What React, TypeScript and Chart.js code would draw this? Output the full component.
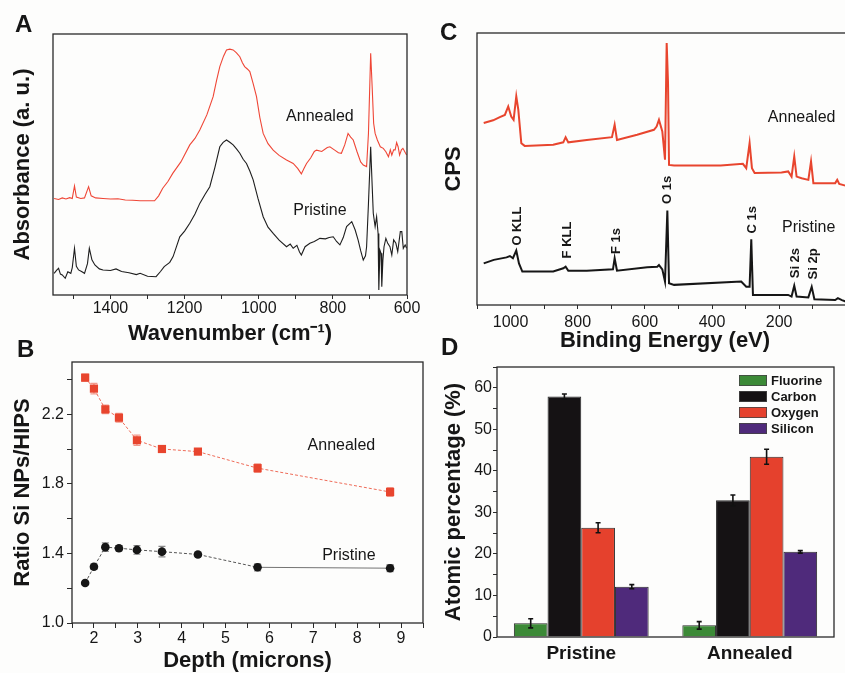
import React, { useEffect, useRef } from "react";
import { Chart, registerables } from "chart.js";
Chart.register(...registerables);

const FONT = "'Liberation Sans', Arial, Helvetica, sans-serif";
const AXIS = "#2a2a2a";
const TXT = "#161616";
const RED = "#e8452e";
const BLACK = "#161616";

// ---------------- Panel A : FTIR ----------------
const ftirAnnealedWn = [1552,1540,1530,1520,1510,1503,1497,1492,1480,1470,1459,1452,1440,1420,1400,1380,1360,1340,1320,1300,1281,1270,1259,1245,1232,1210,1186,1172,1159,1140,1123,1114,1105,1095,1087,1078,1069,1060,1051,1044,1038,1030,1024,1015,1006,997,988,975,961,945,925,907,895,885,878,871,860,850,844,830,815,808,795,785,777,768,759,752,745,735,725,718,709,704,698,694,690,686,680,672,664,657,650,645,641,636,632,628,624,620,615,611,606,601];
const ftirAnnealedAbs = [37.0,36.6,37.2,36.8,37.3,37.0,41.8,37.5,37.0,37.2,41.5,38.0,37.2,37.0,36.8,36.9,36.4,36.3,36.1,36.1,36.1,38.0,40.9,43.5,46.6,51.0,57.5,60.0,63.2,69.0,76.0,82.0,87.5,91.5,93.9,94.2,93.9,92.8,91.3,89.0,87.5,86.5,85.6,81.0,76.0,68.0,61.9,58.0,55.5,53.5,51.7,50.4,48.5,46.4,48.5,50.4,52.5,55.0,55.5,55.0,56.5,56.8,55.5,54.5,54.3,57.5,61.9,60.5,59.4,55.0,51.0,49.8,49.2,61.9,92.6,79.8,65.8,61.9,59.4,56.8,56.2,54.9,53.0,55.6,53.6,55.6,55.6,58.4,56.8,53.6,55.6,56.2,54.9,53.6];
const ftirPristineWn = [1552,1545,1540,1535,1530,1522,1515,1507,1503,1497,1492,1486,1478,1470,1462,1457,1450,1442,1430,1420,1400,1385,1370,1350,1330,1320,1300,1277,1265,1255,1240,1231,1213,1200,1186,1172,1159,1145,1132,1118,1105,1096,1087,1078,1069,1060,1051,1042,1033,1024,1015,1002,988,975,961,945,925,915,907,897,890,885,875,862,850,835,820,810,799,790,781,772,763,749,740,732,725,718,712,709,704,698,694,691,686,682,678,676,673,670,668,665,662,657,652,646,641,636,630,625,618,614,610,605,601];
const ftirPristineAbs = [8.3,9.5,10.2,8.0,7.7,6.4,8.9,8.3,10.5,17.9,11.0,9.6,9.0,8.3,12.0,17.9,13.5,11.5,10.0,9.6,9.4,10.0,9.0,8.5,7.8,8.3,7.2,7.0,9.0,10.9,12.5,14.7,22.3,24.5,27.5,31.0,35.1,38.5,41.5,49.0,56.8,58.5,59.4,58.5,57.5,56.0,54.3,52.0,50.4,47.5,44.1,37.0,30.0,26.0,23.6,21.0,18.5,19.5,17.9,19.0,16.5,15.3,18.5,19.8,20.5,21.7,21.5,22.0,22.3,20.5,19.2,22.0,26.2,28.1,25.0,21.1,17.0,13.4,15.0,18.5,35.0,56.8,42.0,31.3,26.2,30.0,23.6,1.9,17.2,16.0,3.2,13.4,18.5,21.7,19.8,18.5,15.3,21.1,19.8,16.6,24.3,24.3,17.9,19.2,17.9];
const ftirTickLabels = [1400, 1200, 1000, 800, 600];

// ---------------- Panel B : depth profile ----------------
const depthMicrons = [1.8, 2.0, 2.26, 2.57, 2.98, 3.55, 4.37, 5.73, 8.75];
const annealedRatio = [2.41, 2.347, 2.228, 2.18, 2.05, 2.0, 1.985, 1.89, 1.753];
const annealedRatioErr = [0.02, 0.03, 0.025, 0.025, 0.03, 0.015, 0.012, 0.025, 0.025];
const pristineRatio = [1.23, 1.323, 1.436, 1.43, 1.42, 1.41, 1.394, 1.32, 1.315];
const pristineRatioErr = [0.01, 0.015, 0.025, 0.015, 0.025, 0.03, 0.012, 0.02, 0.02];
const depthTickLabels = [2, 3, 4, 5, 6, 7, 8, 9];
const ratioTickLabels = ["1.0", "1.4", "1.8", "2.2"];

// ---------------- Panel C : XPS survey ----------------
const xpsAnnealedBE = [1080,1052,1032,1017,1007,998,991,983,977,968,958,873,843,836,828,773,698,690,683,623,573,565,558,548,540,535,531,528,513,374,308,298,288,281,273,193,173,163,155,148,133,113,105,98,33,27,21,0];
const xpsAnnealedCPS = [66.9,67.9,69.1,69.9,73.0,69.3,68.1,76.7,71.8,59.5,58.5,58.9,59.8,61.7,59.8,60.7,61.7,66.3,60.7,62.6,64.4,65.6,68.1,63.8,53.4,96.3,81.6,51.5,51.3,51.3,51.9,50.3,59.5,50.3,48.5,48.7,49.1,47.2,54.6,47.2,46.6,46.0,52.8,44.8,44.8,46.0,44.5,43.8];
const xpsPristineBE = [1080,1050,1012,1002,993,983,975,965,873,843,836,828,773,695,690,683,593,563,558,548,540,533,528,513,313,298,288,283,278,173,163,155,148,113,103,95,33,25,13,0];
const xpsPristineCPS = [15.3,16.6,17.5,18.0,17.2,20.0,15.3,12.3,12.3,13.5,14.1,12.6,12.6,13.1,17.2,12.6,13.9,14.1,14.7,13.1,8.6,34.7,8.0,7.4,8.6,6.7,6.7,24.2,3.7,3.7,3.1,7.1,3.1,2.8,6.7,2.1,1.8,2.5,1.8,1.2];
const xpsTickLabels = [1000, 800, 600, 400, 200, 0];
const xpsPeakNames = ["O KLL", "F KLL", "F 1s", "O 1s", "C 1s", "Si 2s", "Si 2p"];
const xpsPeakBE = [979, 830, 684, 534, 281, 152, 99];
const xpsPeakLabelLevel = [29.0, 23.9, 23.5, 42.3, 31.3, 15.4, 15.1];

// ---------------- Panel D : atomic percentage ----------------
const samples = ["Pristine", "Annealed"];
const elements = ["Fluorine", "Carbon", "Oxygen", "Silicon"];
const fluorinePct = [3.3, 2.8];
const carbonPct = [57.9, 32.9];
const oxygenPct = [26.3, 43.4];
const siliconPct = [12.1, 20.5];
const fluorineErr = [1.1, 0.9];
const carbonErr = [0.6, 1.3];
const oxygenErr = [1.2, 1.8];
const siliconErr = [0.5, 0.3];
const elementColors = ["#3c8a37", "#151214", "#e5412d", "#4f2a7b"];

// ---------------- helpers ----------------
const zip = (xs: number[], ys: number[]) => xs.map((x, i) => ({ x, y: ys[i] }));

const boxPlugin = {
  id: "box",
  afterDraw(chart: any) {
    const { ctx, chartArea: a } = chart;
    ctx.save();
    ctx.strokeStyle = AXIS;
    ctx.lineWidth = 1.3;
    ctx.strokeRect(a.left, a.top, a.right - a.left, a.bottom - a.top);
    ctx.restore();
  },
};

type Note = { text: string; x: number; y: number; font: string; rotate?: boolean };
function notesPlugin(notes: Note[]) {
  return {
    id: "notes",
    afterDatasetsDraw(chart: any) {
      const { ctx, scales } = chart;
      notes.forEach((n) => {
        const px = scales.x.getPixelForValue(n.x);
        const py = scales.y.getPixelForValue(n.y);
        ctx.save();
        ctx.translate(px, py);
        if (n.rotate) ctx.rotate(-Math.PI / 2);
        ctx.font = n.font;
        ctx.fillStyle = TXT;
        ctx.textAlign = "center";
        ctx.textBaseline = "middle";
        ctx.fillText(n.text, 0, 0);
        ctx.restore();
      });
    },
  };
}

function errorBarPlugin(errs: number[][], colors: string[], cap: number, width: number, before: boolean) {
  const draw = (chart: any) => {
    const { ctx } = chart;
    const ys = chart.scales.y;
    chart.data.datasets.forEach((ds: any, d: number) => {
      const meta = chart.getDatasetMeta(d);
      meta.data.forEach((el: any, i: number) => {
        const raw = ds.data[i];
        const v = typeof raw === "number" ? raw : raw.y;
        const e = errs[d][i];
        const x = el.x;
        const y1 = ys.getPixelForValue(v + e);
        const y2 = ys.getPixelForValue(v - e);
        ctx.save();
        ctx.strokeStyle = colors[d];
        ctx.lineWidth = width;
        ctx.beginPath();
        ctx.moveTo(x, y1);
        ctx.lineTo(x, y2);
        ctx.moveTo(x - cap / 2, y1);
        ctx.lineTo(x + cap / 2, y1);
        ctx.moveTo(x - cap / 2, y2);
        ctx.lineTo(x + cap / 2, y2);
        ctx.stroke();
        ctx.restore();
      });
    });
  };
  return before ? { id: "errorBars", beforeDatasetsDraw: draw } : { id: "errorBars", afterDatasetsDraw: draw };
}

const insideLegendPlugin = {
  id: "insideLegend",
  afterDraw(chart: any) {
    const { ctx, chartArea: a } = chart;
    const x0 = a.right - 95;
    const y0 = a.top + 8;
    chart.data.datasets.forEach((ds: any, i: number) => {
      const y = y0 + i * 16;
      ctx.save();
      ctx.fillStyle = ds.backgroundColor;
      ctx.fillRect(x0, y, 28, 11);
      ctx.strokeStyle = "#444";
      ctx.lineWidth = 0.8;
      ctx.strokeRect(x0 + 0.4, y + 0.4, 27.2, 10.2);
      ctx.font = `bold 13px ${FONT}`;
      ctx.fillStyle = TXT;
      ctx.textAlign = "left";
      ctx.textBaseline = "middle";
      ctx.fillText(ds.label, x0 + 32, y + 6);
      ctx.restore();
    });
  },
};

const tickFont = { family: FONT, size: 16 };
const titleFont = { family: FONT, size: 22, weight: "bold" as const };
const tickGrid = (len: number) => ({ drawOnChartArea: false, drawTicks: true, tickLength: len, color: AXIS, lineWidth: 1 });

// ---------------- chart configs ----------------
function configA(): any {
  return {
    type: "scatter",
    data: {
      datasets: [
        { label: "Annealed", data: zip(ftirAnnealedWn, ftirAnnealedAbs), showLine: true, borderColor: "#ef4636", borderWidth: 1.1, pointRadius: 0 },
        { label: "Pristine", data: zip(ftirPristineWn, ftirPristineAbs), showLine: true, borderColor: "#1e1e1e", borderWidth: 1.1, pointRadius: 0 },
      ],
    },
    options: {
      responsive: false, animation: false,
      layout: { padding: { top: 34, right: 23, left: 0, bottom: 0 } },
      plugins: { legend: { display: false }, tooltip: { enabled: false } },
      scales: {
        x: {
          type: "linear", reverse: true, min: 600, max: 1555,
          afterFit: (s: any) => { s.height = 55; },
          ticks: { stepSize: 100, includeBounds: false, autoSkip: false, maxRotation: 0, maxTicksLimit: 1000, padding: 0, color: TXT, font: tickFont,
            callback: (v: number) => (ftirTickLabels.includes(v) ? String(v) : "") },
          grid: tickGrid(4), border: { display: false },
          title: { display: true, text: "Wavenumber (cm⁻¹)", color: TXT, font: titleFont, padding: { top: 0, bottom: 3 } },
        },
        y: {
          min: 0, max: 100,
          afterFit: (s: any) => { s.width = 53; },
          ticks: { display: false }, grid: { display: false }, border: { display: false },
          title: { display: true, text: "Absorbance (a. u.)", color: TXT, font: titleFont, padding: { top: 10, bottom: 0 } },
        },
      },
    },
    plugins: [boxPlugin, notesPlugin([
      { text: "Annealed", x: 835, y: 68.2, font: `16px ${FONT}` },
      { text: "Pristine", x: 835, y: 32.2, font: `16px ${FONT}` },
    ])],
  };
}

function configB(): any {
  const last = depthMicrons.length - 1;
  return {
    type: "scatter",
    data: {
      datasets: [
        { label: "Annealed", data: zip(depthMicrons, annealedRatio), showLine: true, borderColor: "#ee6b58", borderWidth: 1, borderDash: [3, 2],
          pointStyle: "rect", pointRadius: 5.8, pointBackgroundColor: RED, pointBorderColor: RED, pointBorderWidth: 0 },
        { label: "Pristine", data: zip(depthMicrons, pristineRatio), showLine: true, borderColor: "#555", borderWidth: 1, borderDash: [3, 2],
          segment: {
            borderDash: (ctx: any) => (ctx.p1DataIndex === last ? [] : [3, 2]),
            borderColor: (ctx: any) => (ctx.p1DataIndex === last ? "rgba(70,70,70,0.75)" : "#555"),
          },
          pointStyle: "circle", pointRadius: 4.3, pointBackgroundColor: BLACK, pointBorderColor: BLACK, pointBorderWidth: 0 },
      ],
    },
    options: {
      responsive: false, animation: false,
      layout: { padding: { top: 27, right: 7, left: 0, bottom: 0 } },
      plugins: { legend: { display: false }, tooltip: { enabled: false } },
      scales: {
        x: {
          type: "linear", min: 1.5, max: 9.5,
          afterFit: (s: any) => { s.height = 57; },
          ticks: { stepSize: 0.5, autoSkip: false, maxRotation: 0, maxTicksLimit: 1000, padding: 1, color: TXT, font: tickFont,
            callback: (v: number) => (depthTickLabels.includes(v) ? String(v) : "") },
          grid: tickGrid(5), border: { display: false },
          title: { display: true, text: "Depth (microns)", color: TXT, font: titleFont, padding: { top: 0, bottom: 6 } },
        },
        y: {
          min: 1.0, max: 2.5,
          afterFit: (s: any) => { s.width = 72; },
          ticks: { stepSize: 0.2, includeBounds: false, autoSkip: false, maxTicksLimit: 1000, padding: 3, color: TXT, font: tickFont,
            callback: (v: number) => { const t = v.toFixed(1); return ratioTickLabels.includes(t) ? t : ""; } },
          grid: tickGrid(5), border: { display: false },
          title: { display: true, text: "Ratio Si NPs/HIPS", color: TXT, font: titleFont, padding: { top: 10, bottom: 0 } },
        },
      },
    },
    plugins: [boxPlugin,
      errorBarPlugin([annealedRatioErr, pristineRatioErr], ["#f29a8c", "#8a8a8a"], 7, 1.2, true),
      notesPlugin([
        { text: "Annealed", x: 7.64, y: 2.017, font: `16px ${FONT}` },
        { text: "Pristine", x: 7.81, y: 1.39, font: `16px ${FONT}` },
      ])],
  };
}

function configC(): any {
  const notes: Note[] = xpsPeakNames.map((t, i) => ({ text: t, x: xpsPeakBE[i], y: xpsPeakLabelLevel[i], font: `bold 13px ${FONT}`, rotate: true }));
  notes.push({ text: "Annealed", x: 133, y: 68.75, font: `16px ${FONT}` });
  notes.push({ text: "Pristine", x: 112, y: 28.3, font: `16px ${FONT}` });
  return {
    type: "scatter",
    data: {
      datasets: [
        { label: "Annealed", data: zip(xpsAnnealedBE, xpsAnnealedCPS), showLine: true, borderColor: RED, borderWidth: 2, pointRadius: 0 },
        { label: "Pristine", data: zip(xpsPristineBE, xpsPristineCPS), showLine: true, borderColor: BLACK, borderWidth: 2, pointRadius: 0 },
      ],
    },
    options: {
      responsive: false, animation: false,
      layout: { padding: { top: 33, right: 27, left: 0, bottom: 0 } },
      plugins: { legend: { display: false }, tooltip: { enabled: false } },
      scales: {
        x: {
          type: "linear", reverse: true, min: -20, max: 1100,
          afterFit: (s: any) => { s.height = 55; },
          ticks: { stepSize: 100, autoSkip: false, maxRotation: 0, maxTicksLimit: 1000, padding: 4, color: TXT, font: tickFont,
            callback: (v: number) => (xpsTickLabels.includes(v) ? String(v) : "") },
          grid: tickGrid(4), border: { display: false },
          title: { display: true, text: "Binding Energy (eV)", color: TXT, font: titleFont, padding: { top: 0, bottom: 6 } },
        },
        y: {
          min: 0, max: 100,
          afterFit: (s: any) => { s.width = 57; },
          ticks: { display: false }, grid: { display: false }, border: { display: false },
          title: { display: true, text: "CPS", color: TXT, font: titleFont, padding: { top: 21, bottom: 0 } },
        },
      },
    },
    plugins: [boxPlugin, notesPlugin(notes)],
  };
}

function configD(): any {
  const values = [fluorinePct, carbonPct, oxygenPct, siliconPct];
  return {
    type: "bar",
    data: {
      labels: samples,
      datasets: elements.map((el, i) => ({
        label: el, data: values[i], backgroundColor: elementColors[i], borderColor: "#2a2a2a", borderWidth: 1,
        categoryPercentage: 0.8, barPercentage: 1.0,
      })),
    },
    options: {
      responsive: false, animation: false,
      layout: { padding: { top: 32, right: 11, left: 0, bottom: 0 } },
      plugins: { legend: { display: false }, tooltip: { enabled: false } },
      scales: {
        x: {
          afterFit: (s: any) => { s.height = 43; },
          ticks: { padding: 5, color: TXT, font: { family: FONT, size: 19, weight: "bold" } },
          grid: { display: false, drawTicks: false }, border: { display: false },
        },
        y: {
          min: 0, max: 65,
          afterFit: (s: any) => { s.width = 77; },
          ticks: { stepSize: 5, autoSkip: false, maxTicksLimit: 1000, padding: 1, color: TXT, font: tickFont,
            callback: (v: number) => (v % 10 === 0 ? String(v) : "") },
          grid: tickGrid(4), border: { display: false },
          title: { display: true, text: "Atomic percentage (%)", color: TXT, font: titleFont, padding: { top: 21, bottom: 0 } },
        },
      },
    },
    plugins: [boxPlugin,
      errorBarPlugin([fluorineErr, carbonErr, oxygenErr, siliconErr], ["#111", "#111", "#111", "#111"], 5, 1.6, false),
      insideLegendPlugin],
  };
}

function Panel({ left, top, width, height, make }: { left: number; top: number; width: number; height: number; make: () => any }) {
  const ref = useRef<HTMLCanvasElement>(null);
  useEffect(() => {
    const chart = new Chart(ref.current!, make());
    return () => chart.destroy();
  }, []);
  return (
    <canvas ref={ref} width={width} height={height}
      style={{ position: "absolute", left, top, width, height, display: "block" }} />
  );
}

const letter = (left: number, top: number): React.CSSProperties => ({
  position: "absolute", left, top, fontFamily: FONT, fontWeight: "bold", fontSize: 24, lineHeight: "24px", color: TXT,
});

export default function App() {
  return (
    <div style={{ position: "fixed", left: 0, top: 0, width: 845, height: 673, overflow: "hidden", background: "#fdfdfc" }}>
      <Panel left={0} top={0} width={430} height={350} make={configA} />
      <Panel left={420} top={0} width={460} height={360} make={configC} />
      <Panel left={0} top={335} width={430} height={345} make={configB} />
      <Panel left={420} top={335} width={425} height={345} make={configD} />
      <div style={letter(15, 12)}>A</div>
      <div style={letter(17, 337)}>B</div>
      <div style={letter(440, 20)}>C</div>
      <div style={letter(441, 335)}>D</div>
    </div>
  );
}
